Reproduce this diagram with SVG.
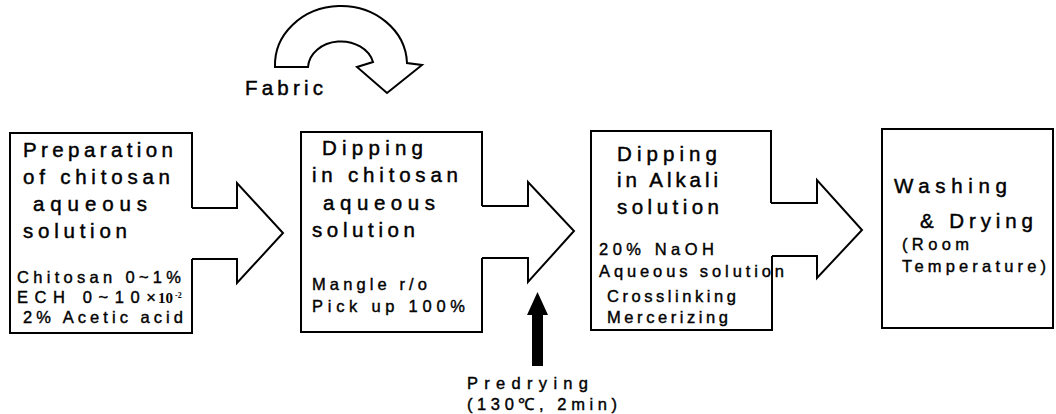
<svg xmlns="http://www.w3.org/2000/svg" width="1056" height="414" viewBox="0 0 1056 414">
<style>
.ln{fill:none;stroke:#000;stroke-width:2;stroke-linejoin:miter}
.h{font-family:"Liberation Sans",Arial,sans-serif;font-size:20.5px;fill:#000;stroke:#000;stroke-width:0.45}
.s{font-family:"Liberation Sans",Arial,sans-serif;font-size:16.5px;fill:#000;stroke:#000;stroke-width:0.4}
.sr{font-family:"Liberation Serif","Times New Roman",serif;fill:#000}
</style>
<rect width="1056" height="414" fill="#fff"/>
<g id="connectors">
<path class="ln" d="M192,208 H237 V183 L283,233 L237,283 V259 H192"/>
<path class="ln" d="M482,206 H528 V182 L574,231 L528,282 V258 H482"/>
<path class="ln" d="M771,203 H817 V180 L862,230 L817,278 V256 H772"/>
<path id="fabric-arrow" class="ln" d="M275,67 A66,59 0 0 1 407,63 L422,65 L387,93 L357,67 L373,62 A33,27 0 0 0 308,67 Z"/>
<path id="predrying-arrow" fill="#000" d="M532,366 V315 H527 L537.5,292 L548,315 H543 V366 Z"/>
</g>
<g id="fabric">
<text class="h" x="245" y="95" textLength="78" lengthAdjust="spacing">Fabric</text>
</g>
<g id="node1">
<path class="ln" d="M192,208 V133 H10 V333 H192 V259"/>
<text class="h" x="23" y="157" textLength="150" lengthAdjust="spacing">Preparation</text>
<text class="h" x="23" y="184" textLength="147" lengthAdjust="spacing">of chitosan</text>
<text class="h" x="33" y="211" textLength="114" lengthAdjust="spacing">aqueous</text>
<text class="h" x="23" y="238" textLength="104" lengthAdjust="spacing">solution</text>
<text class="s" x="17" y="283" textLength="164" lengthAdjust="spacing">Chitosan 0~1%</text>
<text class="s" x="17" y="303" textLength="139" lengthAdjust="spacing">ECH 0~10×</text>
<text class="sr" x="158" y="303" font-size="15" font-weight="bold">10</text>
<text class="sr" x="175" y="298" font-size="8" font-weight="bold">-2</text>
<text class="s" x="23" y="323" textLength="160" lengthAdjust="spacing">2% Acetic acid</text>
</g>
<g id="node2">
<path class="ln" d="M482,206 V132 H301 V332 H482 V258"/>
<text class="h" x="322" y="155" textLength="101" lengthAdjust="spacing">Dipping</text>
<text class="h" x="312" y="182" textLength="146" lengthAdjust="spacing">in chitosan</text>
<text class="h" x="323" y="210" textLength="112" lengthAdjust="spacing">aqueous</text>
<text class="h" x="312" y="237" textLength="103" lengthAdjust="spacing">solution</text>
<text class="s" x="312" y="290" textLength="115" lengthAdjust="spacing">Mangle r/o</text>
<text class="s" x="312" y="312" textLength="153" lengthAdjust="spacing">Pick up  100%</text>
</g>
<g id="node3">
<path class="ln" d="M771,203 V131 H591 V330 H772 V256"/>
<text class="h" x="617" y="161" textLength="100" lengthAdjust="spacing">Dipping</text>
<text class="h" x="617" y="187" textLength="101" lengthAdjust="spacing">in Alkali</text>
<text class="h" x="617" y="214" textLength="102" lengthAdjust="spacing">solution</text>
<text class="s" x="599" y="255" textLength="115" lengthAdjust="spacing">20% NaOH</text>
<text class="s" x="599" y="277" textLength="185" lengthAdjust="spacing">Aqueous solution</text>
<text class="s" x="607" y="302" textLength="129" lengthAdjust="spacing">Crosslinking</text>
<text class="s" x="607" y="323" textLength="121" lengthAdjust="spacing">Mercerizing</text>
</g>
<g id="node4">
<rect class="ln" x="882" y="129" width="171" height="199"/>
<text class="h" x="894" y="193" textLength="113" lengthAdjust="spacing">Washing</text>
<text class="h" x="920" y="228" textLength="113" lengthAdjust="spacing">&amp; Drying</text>
<text class="s" x="902" y="250" textLength="67" lengthAdjust="spacing">(Room</text>
<text class="s" x="902" y="272" textLength="144" lengthAdjust="spacing">Temperature)</text>
</g>
<g id="predrying">
<text class="s" x="467" y="389" font-size="18" textLength="121" lengthAdjust="spacing">Predrying</text>
<text class="s" x="467" y="410" textLength="150" lengthAdjust="spacing">(130℃, 2min)</text>
</g>
</svg>
